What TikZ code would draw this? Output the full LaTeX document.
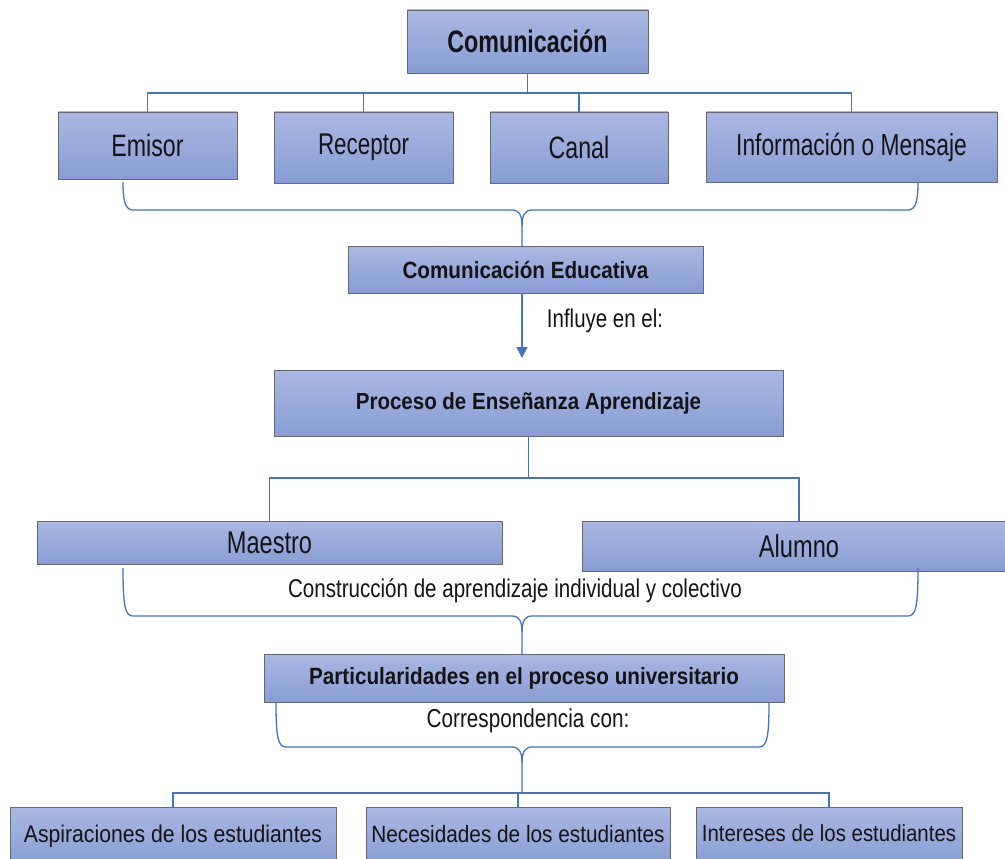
\documentclass[tikz,border=0pt]{standalone}
\usepackage{fontspec}
\setmainfont[FakeStretch=0.8]{Liberation Sans}
\newfontfamily\narrowA[FakeStretch=0.75]{Liberation Sans}
\newfontfamily\narrowC[FakeStretch=0.88]{Liberation Sans}
\usetikzlibrary{arrows.meta}
\definecolor{boxtop}{RGB}{170,184,226}
\definecolor{boxbot}{RGB}{136,157,213}
\definecolor{boxedge}{RGB}{98,104,120}
\definecolor{linkblue}{RGB}{68,114,196}
\definecolor{txt}{RGB}{20,20,20}
\newcommand\fsz[1]{\fontsize{#1}{#1}\selectfont}
\newcommand\mybrace[6]{%
  \draw[conn] (#1,#3) .. controls (#1,{#4-10}) and ({#1+2},#4) .. ({#1+10},#4)
     -- ({#5-10},#4) .. controls ({#5-3},#4) and (#5,{#4+5}) .. (#5,{#4+16}) -- (#5,#6);
  \draw[conn] (#2,#3) .. controls (#2,{#4-10}) and ({#2-2},#4) .. ({#2-10},#4)
     -- ({#5+10},#4) .. controls ({#5+3},#4) and (#5,{#4+5}) .. (#5,{#4+16});
}
\begin{document}
\begin{tikzpicture}[x=1pt,y=-1pt,
  box/.style={draw=boxedge,line width=0.9pt,top color=boxtop,bottom color=boxbot,
    inner sep=0pt,outer sep=0pt,text=txt,align=center},
  conn/.style={draw=linkblue,line width=1.3pt},
  lbl/.style={inner sep=0pt,text=txt}]
\clip (0,0) rectangle (1005,859);
\fill[white] (0,0) rectangle (1005,859);

% boxes
\node[box,minimum width=241pt,minimum height=63pt,font=\narrowA\fsz{31}\bfseries] (com) at (527.5,41.5) {Comunicación};
\node[box,minimum width=179pt,minimum height=67pt,font=\narrowA\fsz{30.9}] (emi) at (147.5,145.5) {Emisor};
\node[box,minimum width=179pt,minimum height=71pt,font=\narrowA\fsz{29.9}] (rec) at (363.5,147.5) {Receptor};
\node[box,minimum width=178pt,minimum height=71pt,font=\narrowA\fsz{30.9}] (can) at (579,147.5) {Canal};
\node[box,minimum width=291pt,minimum height=70pt,font=\narrowA\fsz{30.4}] (inf) at (851.5,147) {Información o Mensaje};
\node[box,minimum width=355pt,minimum height=47pt,font=\narrowC\fsz{23.5}\bfseries] (ced) at (525.5,269.5) {Comunicación Educativa};
\node[box,minimum width=509pt,minimum height=66pt,font=\narrowC\fsz{23.3}\bfseries] (proc) at (528.5,403) {Proceso de Enseñanza Aprendizaje};
\node[box,minimum width=465pt,minimum height=43pt,font=\narrowA\fsz{31.4}] (mae) at (269.5,542.5) {Maestro};
\node[box,minimum width=434pt,minimum height=50pt,font=\narrowA\fsz{31.5}] (alu) at (799,546) {Alumno};
\node[box,minimum width=520pt,minimum height=48pt,font=\narrowC\fsz{23.5}\bfseries] (par) at (524,678) {Particularidades en el proceso universitario};
\node[box,minimum width=326pt,minimum height=58pt,font=\narrowC\fsz{24.1}] (asp) at (173,836) {\raisebox{5pt}{Aspiraciones de los estudiantes}};
\node[box,minimum width=304pt,minimum height=58pt,font=\narrowC\fsz{23.6}] (nec) at (518,836) {\raisebox{5pt}{Necesidades de los estudiantes}};
\node[box,minimum width=266pt,minimum height=58pt,font=\narrowC\fsz{23.2}] (int) at (829,836) {\raisebox{5pt}{Intereses de los estudiantes}};

% labels
\node[lbl,font=\fsz{25.6}] (l1) at (605,321) {Influye en el:};
\node[lbl,font=\fsz{25.7}] (l2) at (515,591) {Construcción de aprendizaje individual y colectivo};
\node[lbl,font=\fsz{25.9}] (l3) at (528,721) {Correspondencia con:};

% junctions
\coordinate (j1) at (527.5,93);
\coordinate (j2) at (528.5,478);
\coordinate (j4) at (522,793);
\coordinate (arr) at (522,358);

% top tree
\draw[conn] (com.south) -- (j1);
\draw[conn] (emi.north) |- (j1);
\draw[conn] (j1) -| (inf.north);
\draw[conn] (rec.north) -- (rec.north |- j1);
\draw[conn] (can.north) -- (can.north |- j1);

% braces
\mybrace{123}{918}{182}{210}{522}{246}
\mybrace{123}{918}{568}{616}{522}{654}
\mybrace{276}{769}{703}{747}{522}{793}

% arrow
\draw[conn,-{Triangle[length=11pt,width=11pt]}] (ced.south -| arr) -- (arr);

% proceso tree
\draw[conn] (proc.south) -- (j2);
\draw[conn] (mae.north) |- (j2) -| (alu.north);

% bottom tree
\draw[conn] (asp.north) |- (j4) -| (int.north);
\draw[conn] (nec.north) -- (nec.north |- j4);
\end{tikzpicture}
\end{document}
